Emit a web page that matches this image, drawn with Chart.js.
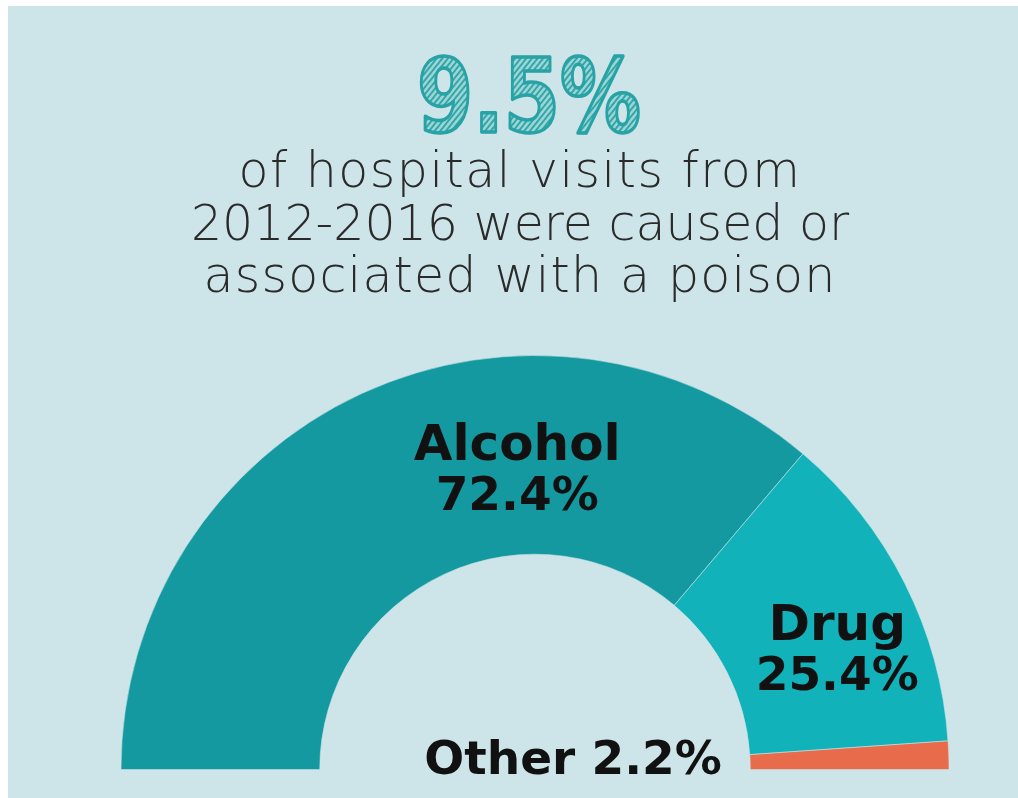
<!DOCTYPE html>
<html>
<head>
<meta charset="utf-8">
<script src="https://cdn.jsdelivr.net/npm/chart.js@4.4.1/dist/chart.umd.min.js"></script>
<style>
  html, body { margin: 0; padding: 0; background: #ffffff; }
  #frame { position: relative; width: 1018px; height: 798px; overflow: hidden; }
  #panel { position: absolute; left: 8px; top: 6px; right: 0; bottom: 0; background: #cde5e8; }
  #poison { position: absolute; left: 0; top: 0; }
</style>
</head>
<body>
<div id="frame">
  <div id="panel"></div>
  <canvas id="poison" width="1018" height="798"></canvas>
</div>
<script>
// Share of poison-related hospital visits, 2012-2016
const headline = '9.5%';
const subtitleLines = [
  'of hospital visits from',
  '2012-2016 were caused or',
  'associated with a poison'
];
const categories = ['Alcohol', 'Drug', 'Other'];
const shares = [72.4, 25.4, 2.2];
const sliceColors = ['#1499a1', '#12b2ba', '#e86b4c'];

// Diagonal hatch used to fill the hand-drawn looking headline
function hatchPattern(ctx) {
  const p = document.createElement('canvas');
  p.width = 7; p.height = 7;
  const g = p.getContext('2d');
  g.fillStyle = '#9fd6d6';
  g.fillRect(0, 0, 7, 7);
  g.strokeStyle = '#2ba4a7';
  g.lineWidth = 2;
  g.beginPath();
  g.moveTo(-1, 8); g.lineTo(8, -1);
  g.moveTo(-4, 4); g.lineTo(4, -4);
  g.moveTo(3, 11); g.lineTo(11, 3);
  g.stroke();
  return ctx.createPattern(p, 'repeat');
}

const headerPlugin = {
  id: 'header',
  afterDraw(chart) {
    const ctx = chart.ctx;
    ctx.save();
    // headline number
    ctx.save();
    ctx.translate(529, 132);
    ctx.scale(0.8, 1);
    ctx.font = 'bold 101px "DejaVu Sans"';
    ctx.textAlign = 'center';
    ctx.textBaseline = 'alphabetic';
    ctx.fillStyle = hatchPattern(ctx);
    ctx.fillText(headline, 0, 0);
    ctx.lineJoin = 'round';
    ctx.lineWidth = 3.5;
    ctx.strokeStyle = '#27a2a5';
    ctx.strokeText(headline, 0, 0);
    ctx.restore();

    // subtitle
    ctx.font = '200 49px "DejaVu Sans"';
    ctx.fillStyle = '#2a2a2a';
    ctx.textAlign = 'center';
    ctx.textBaseline = 'alphabetic';
    const baselines = [187, 240, 292];
    const spacing = ['1.5px', '0px', '1.2px'];
    subtitleLines.forEach((line, i) => {
      ctx.letterSpacing = spacing[i];
      ctx.fillText(line, 520, baselines[i]);
    });
    ctx.letterSpacing = '0px';
    ctx.restore();
  }
};

// Slice captions placed relative to the arc centre and radius
const sliceLabelPlugin = {
  id: 'sliceLabels',
  afterDatasetsDraw(chart) {
    const meta = chart.getDatasetMeta(0);
    const arc = meta.data[0];
    const { x, y, outerRadius } = arc.getProps(['x', 'y', 'outerRadius'], true);
    const R = outerRadius;
    const ctx = chart.ctx;
    ctx.save();
    ctx.fillStyle = '#111111';
    ctx.textAlign = 'center';
    ctx.textBaseline = 'alphabetic';
    const nameFont = 'bold 50px "DejaVu Sans"';
    const pctFont = 'bold 47px "DejaVu Sans"';
    const txt = i => categories[i];
    const pct = i => shares[i].toFixed(1) + '%';
    // Alcohol
    ctx.font = nameFont;
    ctx.fillText(txt(0), x - 0.043 * R, y - 0.747 * R);
    ctx.font = pctFont;
    ctx.fillText(pct(0), x - 0.043 * R, y - 0.627 * R);
    // Drug
    ctx.font = nameFont;
    ctx.fillText(txt(1), x + 0.73 * R, y - 0.313 * R);
    ctx.font = pctFont;
    ctx.fillText(pct(1), x + 0.73 * R, y - 0.193 * R);
    // Other
    ctx.font = pctFont;
    ctx.fillText(txt(2) + ' ' + pct(2), x + 0.092 * R, y + 0.012 * R);
    ctx.restore();
  }
};

new Chart(document.getElementById('poison'), {
  type: 'doughnut',
  data: {
    labels: categories,
    datasets: [{
      data: shares,
      backgroundColor: sliceColors,
      borderColor: 'rgba(205,229,232,0.55)',
      borderWidth: 1
    }]
  },
  options: {
    responsive: false,
    animation: false,
    rotation: -90,
    circumference: 180,
    cutout: '52%',
    layout: { padding: { left: 120, right: 68, top: 355, bottom: 28 } },
    plugins: {
      legend: { display: false },
      tooltip: { enabled: false },
      title: { display: false }
    }
  },
  plugins: [headerPlugin, sliceLabelPlugin]
});
</script>
</body>
</html>
